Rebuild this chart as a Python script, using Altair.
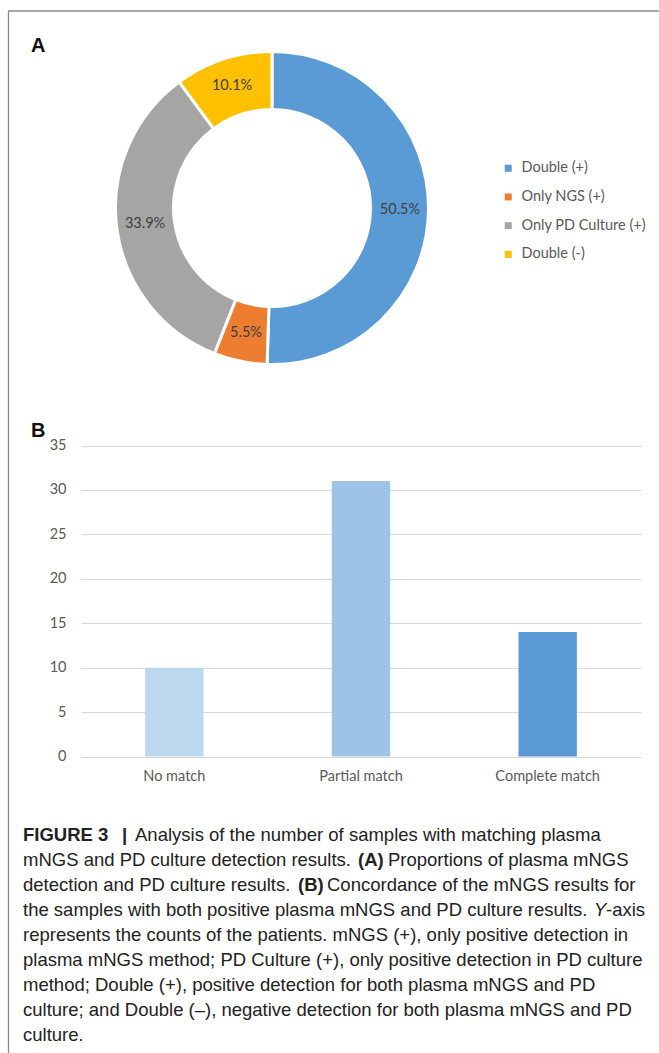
import altair as alt
import pandas as pd

# ---- Panel A: proportions of plasma mNGS / PD culture outcomes (%) ----
outcome_labels = ["Double (+)", "Only NGS (+)", "Only PD Culture (+)", "Double (-)"]
outcome_shares = [50.5, 5.5, 33.9, 10.1]
outcome_colors = ["#5B9BD5", "#ED7D31", "#A5A5A5", "#FFC000"]

# ---- Panel B: concordance of mNGS results (patient counts) ----
match_groups = ["No match", "Partial match", "Complete match"]
match_counts = [10, 31, 14]
match_colors = ["#BDD7EE", "#9DC3E6", "#5B9BD5"]
count_ticks = [0, 5, 10, 15, 20, 25, 30, 35]

# ---- Figure caption, split into runs (text, weight/style) ----
caption_runs = [
    [("FIGURE 3", "bold"), ("|", "bold"),
     ("Analysis of the number of samples with matching plasma", "normal")],
    [("mNGS and PD culture detection results.", "normal"), ("(A)", "bold"),
     ("Proportions of plasma mNGS", "normal")],
    [("detection and PD culture results.", "normal"), ("(B)", "bold"),
     ("Concordance of the mNGS results for", "normal")],
    [("the samples with both positive plasma mNGS and PD culture results.", "normal"),
     ("Y", "italic"), ("-axis", "normal")],
    [("represents the counts of the patients. mNGS (+), only positive detection in", "normal")],
    [("plasma mNGS method; PD Culture (+), only positive detection in PD culture", "normal")],
    [("method; Double (+), positive detection for both plasma mNGS and PD", "normal")],
    [("culture; and Double (\u2013), negative detection for both plasma mNGS and PD", "normal")],
    [("culture.", "normal")],
]

# ---- layout ----
W, H = 659, 1053
CX, CY = 272, 208            # donut centre
R_OUT, R_IN = 156.5, 98.5    # donut radii (white separators eat into them)
PLOT_L, PLOT_R = 81, 641     # bar panel plot area
PLOT_T, PLOT_B = 445.5, 756.5
CAP_X = 23
CAP_BASE = 840.7
CAP_STEP = 25
CAP_SIZE = 18.5
# left edge of each run on the mixed-style caption lines
run_x = [[CAP_X, 122, 135], [CAP_X, 358, 388], [CAP_X, 298, 327], [CAP_X, 594, 606]]

CHART_FONT = "Lato"
CHART_SIZE = 14.5
CAP_FONT = "Liberation Sans"
FRAME = "#8a8a8a"

donut_df = pd.DataFrame({
    "outcome": outcome_labels,
    "share": outcome_shares,
    "idx": list(range(len(outcome_labels))),
})
donut_df["label"] = [f"{v:.1f}%" for v in donut_df["share"]]

bar_df = pd.DataFrame({"group": match_groups, "count": match_counts})

one = pd.DataFrame({"k": [0]})

layers = []

# frame around the figure panels
layers.append(alt.Chart(one).mark_rule(color=FRAME, strokeWidth=1.3).encode(
    x=alt.value(8.5), y=alt.value(11), y2=alt.value(H)))
layers.append(alt.Chart(one).mark_rule(color=FRAME, strokeWidth=1.3).encode(
    x=alt.value(8), x2=alt.value(W), y=alt.value(11)))

# panel letters
for letter, ly in (("A", 52), ("B", 437)):
    layers.append(alt.Chart(one).mark_text(
        text=letter, align="left", baseline="alphabetic", font=CAP_FONT,
        fontSize=20, fontWeight="bold", color="#111111",
    ).encode(x=alt.value(31), y=alt.value(ly)))

# donut
theta = alt.Theta("share:Q", stack=True)
donut = alt.Chart(donut_df).mark_arc(
    innerRadius=R_IN, outerRadius=R_OUT, stroke="white", strokeWidth=3,
).encode(
    theta=theta,
    order=alt.Order("idx:Q"),
    color=alt.Color(
        "outcome:N",
        scale=alt.Scale(domain=outcome_labels, range=outcome_colors),
        legend=alt.Legend(
            orient="none", legendX=501, legendY=161, title=None,
            symbolType="square", symbolSize=49, symbolStrokeWidth=0,
            labelFont=CHART_FONT, labelFontSize=CHART_SIZE, labelColor="#595959",
            rowPadding=13.7, labelOffset=6, padding=0,
        ),
    ),
    x=alt.value(CX), y=alt.value(CY),
)
layers.append(donut)

donut_text = alt.Chart(donut_df).mark_text(
    radius=128, font=CHART_FONT, fontSize=CHART_SIZE, color="#404040",
).encode(
    theta=theta,
    order=alt.Order("idx:Q"),
    detail="outcome:N",
    text="label:N",
    x=alt.value(CX), y=alt.value(CY),
)
layers.append(donut_text)

# bar chart
bars = alt.Chart(bar_df).mark_bar().encode(
    x=alt.X(
        "group:N", sort=match_groups,
        scale=alt.Scale(range=[PLOT_L, PLOT_R], paddingInner=0.687, paddingOuter=0.3435),
        axis=alt.Axis(
            title=None, orient="bottom", offset=-(H - PLOT_B), domain=False, ticks=False,
            labelAngle=0, labelFont=CHART_FONT, labelFontSize=CHART_SIZE, labelColor="#595959",
            labelPadding=13, grid=False,
        ),
    ),
    y=alt.Y(
        "count:Q",
        scale=alt.Scale(domain=[0, 35], range=[PLOT_B, PLOT_T], nice=False),
        axis=alt.Axis(
            title=None, orient="left", offset=-PLOT_L, values=count_ticks,
            domain=False, ticks=False, grid=True, gridColor="#D9D9D9", gridWidth=1,
            labelFont=CHART_FONT, labelFontSize=CHART_SIZE, labelColor="#595959",
            labelPadding=15,
        ),
    ),
    color=alt.Color(
        "group:N", scale=alt.Scale(domain=match_groups, range=match_colors), legend=None,
    ),
)
layers.append(bars)

# caption
for i, runs in enumerate(caption_runs):
    y = CAP_BASE + i * CAP_STEP
    xs = run_x[i] if i < len(run_x) else [CAP_X]
    for (txt, sty), x in zip(runs, xs):
        layers.append(alt.Chart(one).mark_text(
            text=txt, align="left", baseline="alphabetic", font=CAP_FONT,
            fontSize=CAP_SIZE,
            fontWeight="bold" if sty == "bold" else "normal",
            fontStyle="italic" if sty == "italic" else "normal",
            color="#222222",
        ).encode(x=alt.value(x), y=alt.value(y)))

chart = alt.layer(*layers).resolve_scale(color="independent").properties(
    width=W, height=H, padding=0, autosize="none", background="white",
).configure_view(stroke=None)

chart.save("out.html", embed_options={"renderer": "svg", "actions": False})
